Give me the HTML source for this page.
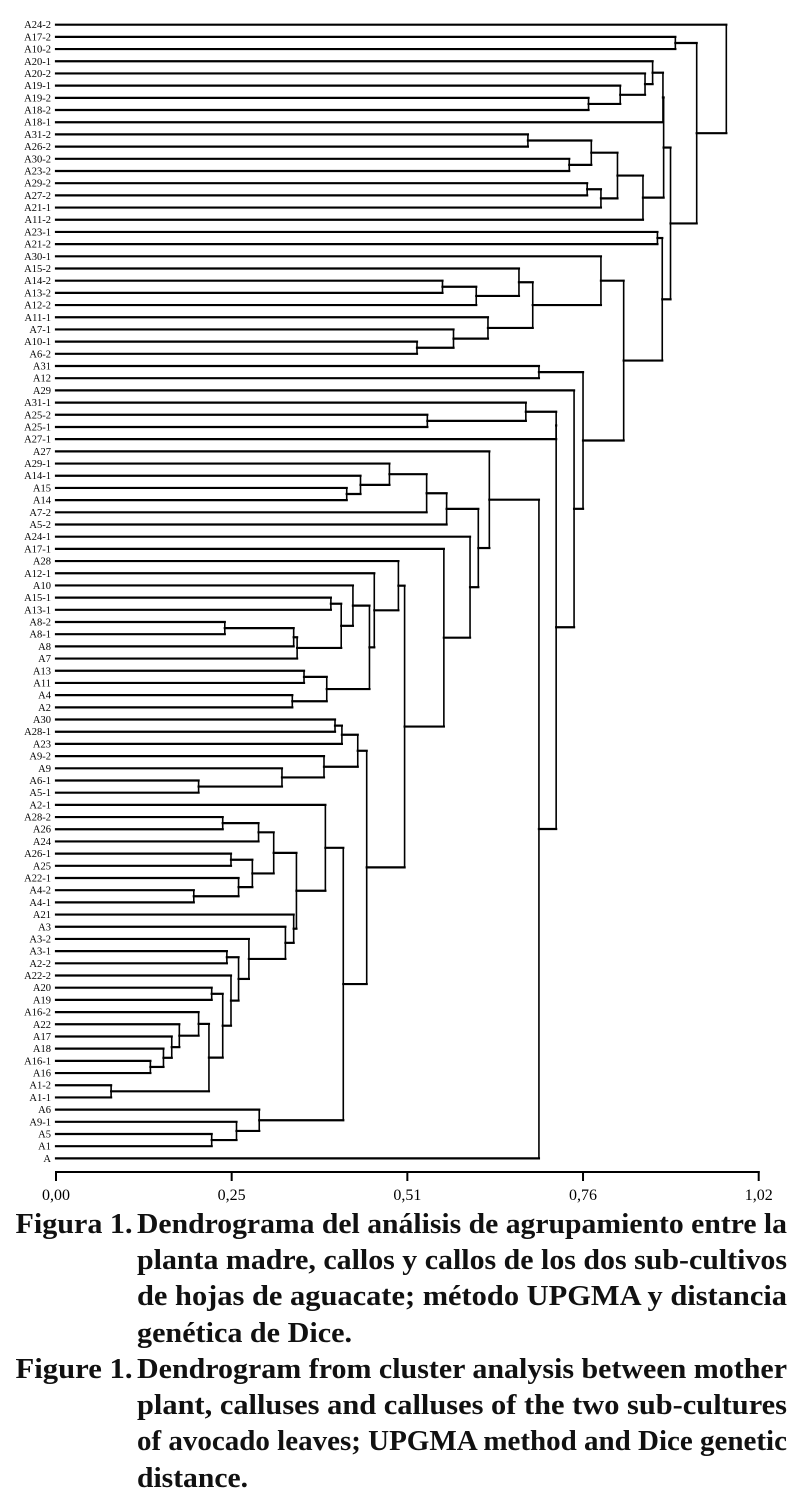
<!DOCTYPE html>
<html>
<head>
<meta charset="utf-8">
<style>
  html,body{margin:0;padding:0;background:#fff;}
  svg{display:block;}
  .leaf{font-family:"Liberation Serif",serif;font-size:10.5px;fill:#000;}
  .tick{font-family:"Liberation Serif",serif;font-size:16px;fill:#000;}
  .cap{font-family:"Liberation Serif",serif;font-size:28px;font-weight:bold;fill:#111;}
</style>
</head>
<body>
<svg id="chart" width="805" height="1507" viewBox="0 0 805 1507" xmlns="http://www.w3.org/2000/svg">
  <g id="tree"></g>
  <g id="labels"></g>
  <g id="axis"></g>
  <g id="caption">
    <text class="cap" x="15.5" y="1233" textLength="117" lengthAdjust="spacingAndGlyphs">Figura 1.</text>
    <text class="cap" x="137" y="1233" textLength="650" lengthAdjust="spacingAndGlyphs">Dendrograma del análisis de agrupamiento entre la</text>
    <text class="cap" x="137" y="1269" textLength="650" lengthAdjust="spacingAndGlyphs">planta madre, callos y callos de los dos sub-cultivos</text>
    <text class="cap" x="137" y="1305" textLength="650" lengthAdjust="spacingAndGlyphs">de hojas de aguacate; método UPGMA y distancia</text>
    <text class="cap" x="137" y="1342" textLength="215" lengthAdjust="spacingAndGlyphs">genética de Dice.</text>
    <text class="cap" x="15.5" y="1378" textLength="117" lengthAdjust="spacingAndGlyphs">Figure 1.</text>
    <text class="cap" x="137" y="1378" textLength="650" lengthAdjust="spacingAndGlyphs">Dendrogram from cluster analysis between mother</text>
    <text class="cap" x="137" y="1414" textLength="650" lengthAdjust="spacingAndGlyphs">plant, calluses and calluses of the two sub-cultures</text>
    <text class="cap" x="137" y="1450" textLength="650" lengthAdjust="spacingAndGlyphs">of avocado leaves; UPGMA method and Dice genetic</text>
    <text class="cap" x="137" y="1487" textLength="111" lengthAdjust="spacingAndGlyphs">distance.</text>
  </g>
</svg>
<script>
// ---- data ----
const leaves = ["A24-2","A17-2","A10-2","A20-1","A20-2","A19-1","A19-2","A18-2","A18-1","A31-2","A26-2","A30-2","A23-2","A29-2","A27-2","A21-1","A11-2","A23-1","A21-2","A30-1","A15-2","A14-2","A13-2","A12-2","A11-1","A7-1","A10-1","A6-2","A31","A12","A29","A31-1","A25-2","A25-1","A27-1","A27","A29-1","A14-1","A15","A14","A7-2","A5-2","A24-1","A17-1","A28","A12-1","A10","A15-1","A13-1","A8-2","A8-1","A8","A7","A13","A11","A4","A2","A30","A28-1","A23","A9-2","A9","A6-1","A5-1","A2-1","A28-2","A26","A24","A26-1","A25","A22-1","A4-2","A4-1","A21","A3","A3-2","A3-1","A2-2","A22-2","A20","A19","A16-2","A22","A17","A18","A16-1","A16","A1-2","A1-1","A6","A9-1","A5","A1","A"];
const mergeLeft = ["A19-2","A19-1","A20-2","A20-1","A31-2","A30-2","#4","A29-2","#7","#6","#9","#3","#11","A23-1","A14-2","#14","A15-2","A10-1","A7-1","A11-1","#16","A30-1","A31","A25-2","A31-1","#24","A15","A14-1","A29-1","#28","#29","A8-2","#31","#32","A15-1","#34","A10","A13","A4","#37","#36","A12-1","A28","A30","#43","A6-1","A9","A9-2","#44","A28-2","#49","A26-1","A4-2","A22-1","#51","#50","A16-1","A18","A17","A22","A16-2","A1-2","#60","A20","#63","A22-2","A3-1","#66","A3-2","A3","A21","#55","A2-1","A5","A9-1","A6","#72","#48","#42","A17-1","A24-1","#30","A27","#82","#25","A29","#22","#21","#13","#12","A17-2","#90","A24-2"];
const mergeRight = ["A18-2","#0","#1","#2","A26-2","A23-2","#5","A27-2","A21-1","#8","A11-2","A18-1","#10","A21-2","A13-2","A12-2","#15","A6-2","#17","#18","#19","#20","A12","A25-1","#23","A27-1","A14","#26","#27","A7-2","A5-2","A8-1","A8","A7","A13-1","#33","#35","A11","A2","#38","#39","#40","#41","A28-1","A23","A5-1","#45","#46","#47","A26","A24","A25","A4-1","#52","#53","#54","A16","#56","#57","#58","#59","A1-1","#61","A19","#62","#64","A2-2","#65","#67","#68","#69","#70","#71","A1","#73","#74","#75","#76","#77","#78","#79","#80","#81","A","#83","#84","#85","#86","#87","#88","A10-2","#89","#91"];
const mergeHeight = [0.773,0.819,0.855,0.866,0.685,0.745,0.777,0.771,0.791,0.815,0.852,0.881,0.882,0.873,0.561,0.610,0.672,0.524,0.577,0.627,0.692,0.791,0.701,0.539,0.682,0.726,0.422,0.442,0.484,0.538,0.567,0.245,0.345,0.350,0.399,0.414,0.431,0.360,0.343,0.393,0.455,0.462,0.497,0.405,0.415,0.207,0.328,0.389,0.438,0.242,0.294,0.254,0.200,0.265,0.285,0.316,0.137,0.156,0.168,0.179,0.207,0.080,0.222,0.226,0.242,0.254,0.248,0.265,0.280,0.333,0.345,0.349,0.391,0.226,0.262,0.295,0.417,0.451,0.506,0.563,0.601,0.613,0.629,0.701,0.726,0.752,0.765,0.824,0.880,0.892,0.899,0.930,0.973];
const tickValues = [0, 0.255, 0.51, 0.765, 1.02];
const tickLabels = ["0,00","0,25","0,51","0,76","1,02"];

// ---- scales ----
const X0 = 56, X1 = 758.7, XMAX = 1.02;
function xs(v){ return X0 + v/XMAX*(X1-X0); }
const Y0 = 24.7, DY = 12.19;
function ys(i){ return Y0 + i*DY; }

const NS = "http://www.w3.org/2000/svg";
const tree = document.getElementById('tree');
const labels = document.getElementById('labels');
const axis = document.getElementById('axis');

function line(parent, x1, y1, x2, y2, w){
  const l = document.createElementNS(NS,'line');
  l.setAttribute('x1',x1); l.setAttribute('y1',y1);
  l.setAttribute('x2',x2); l.setAttribute('y2',y2);
  l.setAttribute('stroke','#000');
  l.setAttribute('stroke-width',w);
  l.setAttribute('stroke-linecap','square');
  parent.appendChild(l);
  return l;
}

const pos = {};
leaves.forEach((name,i)=>{
  pos[name] = {x: xs(0), y: ys(i)};
  const t = document.createElementNS(NS,'text');
  t.setAttribute('class','leaf');
  t.setAttribute('x', 51);
  t.setAttribute('y', ys(i)+3.5);
  t.setAttribute('text-anchor','end');
  t.textContent = name;
  
  
  labels.appendChild(t);
});

function resolve(ref){ return pos[ref]; }

for (let k=0; k<mergeHeight.length; k++){
  const a = resolve(mergeLeft[k]);
  const b = resolve(mergeRight[k]);
  const nx = xs(mergeHeight[k]);
  const g = document.createElementNS(NS,'g');
  
  
  line(g, a.x, a.y, nx, a.y, 2.2);
  line(g, b.x, b.y, nx, b.y, 2.2);
  line(g, nx, a.y, nx, b.y, 1.6);
  tree.appendChild(g);
  pos['#'+k] = {x: nx, y: (a.y+b.y)/2};
}

const AY = 1172;
const al = line(axis, xs(0), AY, xs(XMAX), AY, 2);


tickValues.forEach((v,i)=>{
  const tk = line(axis, xs(v), AY, xs(v), AY+8, 2);
  
  
  const t = document.createElementNS(NS,'text');
  t.setAttribute('class','tick');
  t.setAttribute('x', xs(v));
  t.setAttribute('y', 1200);
  t.setAttribute('text-anchor','middle');
  t.textContent = tickLabels[i];
  
  
  axis.appendChild(t);
});
</script>
</body>
</html>
